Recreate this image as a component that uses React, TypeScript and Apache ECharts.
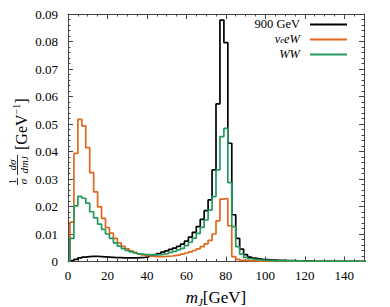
import React, { useEffect, useRef } from "react";
import * as echarts from "echarts";

// Histogram binning (GeV): first bin edge and bin width
const binStart = 1;
const binWidth = 2;

const seriesNames = ["900 GeV", "νeeW", "WW"];
const seriesColors = ["#000000", "#e0671b", "#22995f"];

// 1/σ dσ/dm_J per bin, bins [1,3], [3,5], ... [149,151]
const tev900 = [
  0.0003, 0.0008, 0.0013, 0.0016, 0.0018, 0.0019, 0.0019, 0.0018, 0.0017, 0.0016,
  0.0015, 0.0014, 0.0014, 0.0013, 0.0013, 0.0013, 0.0013, 0.0014, 0.0015, 0.0017,
  0.0021, 0.0025, 0.0029, 0.0034, 0.0039, 0.0044, 0.0049, 0.0055, 0.0063, 0.0074,
  0.0089, 0.0106, 0.0127, 0.0153, 0.0185, 0.0224, 0.0333, 0.0573, 0.0878, 0.0796,
  0.043, 0.017, 0.0084, 0.0045, 0.0025, 0.0016, 0.0012, 0.001, 0.0008, 0.0007,
  0.0006, 0.0005, 0.0004, 0.0004, 0.0003, 0.0003, 0.0003, 0.0002, 0.0002, 0.0002,
  0.0002, 0.0001, 0.0001, 0.0001, 0.0001, 0.0001, 0.0001, 0.0001, 0.0001, 0.0001,
  0.0001, 0.0001, 0.0001, 0.0001, 0.0001,
];

const nueeW = [
  0.0143, 0.0393, 0.0517, 0.0493, 0.0414, 0.0323, 0.0253, 0.0199, 0.0157, 0.0123,
  0.0103, 0.0084, 0.0068, 0.0055, 0.0046, 0.0039, 0.0033, 0.0028, 0.0024, 0.0021,
  0.0019, 0.0018, 0.0018, 0.0018, 0.0019, 0.002, 0.0022, 0.0024, 0.0027, 0.0031,
  0.0035, 0.004, 0.0046, 0.0054, 0.0064, 0.0077, 0.01, 0.0148, 0.0227, 0.0229,
  0.013, 0.0018, 0.0008, 0.0004, 0.0003, 0.0002, 0.0002, 0.0001, 0.0001, 0.0001,
  0.0001, 0.0001, 0.0001, 0.0001, 0.0001, 0.0001, 0.0001, 0.0001, 0.0001, 0.0001,
  0.0001, 0.0001, 0.0001, 0.0001, 0.0001, 0.0001, 0.0001, 0.0001, 0.0001, 0.0001,
  0.0001, 0.0001, 0.0001, 0.0001, 0.0001,
];

const ww = [
  0.0084, 0.0202, 0.0237, 0.023, 0.0212, 0.0181, 0.0159, 0.0136, 0.0117, 0.01,
  0.0084, 0.0068, 0.0056, 0.0047, 0.004, 0.0035, 0.0031, 0.0028, 0.0026, 0.0025,
  0.0024, 0.0024, 0.0025, 0.0027, 0.0029, 0.0033, 0.0037, 0.0042, 0.0048, 0.0058,
  0.007, 0.0085, 0.0102, 0.0124, 0.0151, 0.0187, 0.0236, 0.0333, 0.0454, 0.0484,
  0.0287, 0.0127, 0.0054, 0.0027, 0.0015, 0.001, 0.0008, 0.0006, 0.0005, 0.0004,
  0.0004, 0.0003, 0.0003, 0.0003, 0.0002, 0.0002, 0.0002, 0.0002, 0.0002, 0.0001,
  0.0001, 0.0001, 0.0001, 0.0001, 0.0001, 0.0001, 0.0001, 0.0001, 0.0001, 0.0001,
  0.0001, 0.0001, 0.0001, 0.0001, 0.0001,
];

const xMin = 0;
const xMax = 150;
const xMajor = 20;
const xMinor = 5;
const yMin = 0;
const yMax = 0.09;
const yMajor = 0.01;

const SERIF = '"Liberation Serif", "DejaVu Serif", serif';
const FRAME = "#444";

function toSteps(values: number[]): [number, number][] {
  const pts: [number, number][] = [[xMin, 0]];
  values.forEach((v, i) => pts.push([binStart + i * binWidth, v]));
  pts.push([binStart + values.length * binWidth, values[values.length - 1]]);
  return pts;
}

function xAxisDef(position: "top" | "bottom", minor: boolean, labels: boolean) {
  return {
    type: "value",
    position,
    min: xMin,
    max: xMax,
    interval: minor ? xMinor : xMajor,
    axisLine: { show: !minor, onZero: false, lineStyle: { color: FRAME, width: 1 } },
    axisTick: { show: true, inside: true, length: minor ? 2.5 : 5, lineStyle: { color: FRAME, width: 1 } },
    axisLabel: {
      show: labels,
      showMaxLabel: false,
      margin: 7,
      color: "#000",
      fontFamily: SERIF,
      fontSize: 13,
    },
    splitLine: { show: false },
  };
}

function yAxisDef(position: "left" | "right", labels: boolean) {
  return {
    type: "value",
    position,
    min: yMin,
    max: yMax,
    interval: yMajor,
    axisLine: { show: true, onZero: false, lineStyle: { color: FRAME, width: 1 } },
    axisTick: { show: true, inside: true, length: 5, lineStyle: { color: FRAME, width: 1 } },
    minorTick: { show: true, splitNumber: 5, length: 2.5, lineStyle: { color: FRAME, width: 1 } },
    axisLabel: {
      show: labels,
      margin: 10,
      color: "#000",
      fontFamily: SERIF,
      fontSize: 13,
      formatter: (v: number) => (v === 0 ? "0" : v.toFixed(2)),
    },
    splitLine: { show: false },
  };
}

export default function App() {
  const ref = useRef<HTMLDivElement>(null);

  useEffect(() => {
    if (!ref.current) return;
    const chart = echarts.init(ref.current, undefined, { renderer: "svg" });

    const allSeries = [tev900, nueeW, ww];

    const legendY = [24, 39, 54];
    const legendTextX = 300;
    const legendLineX1 = 310;
    const legendLineX2 = 347;

    const baseText = {
      fill: "#000",
      align: "right",
      verticalAlign: "middle",
      textAlign: "right",
      textVerticalAlign: "middle",
    };

    const legendTexts: any[] = [
      {
        type: "text",
        style: {
          ...baseText,
          x: legendTextX,
          y: legendY[0],
          text: "{n|" + seriesNames[0] + "}",
          rich: { n: { fontFamily: SERIF, fontSize: 12.5, lineHeight: 12 } },
        },
      },
      {
        type: "text",
        style: {
          ...baseText,
          x: legendTextX,
          y: legendY[1],
          text: "{a|ν}{s|e}{a|eW}",
          rich: {
            a: { fontFamily: SERIF, fontStyle: "italic", fontSize: 12.5, lineHeight: 11, verticalAlign: "middle" },
            s: { fontFamily: SERIF, fontStyle: "italic", fontSize: 8.5, lineHeight: 6, verticalAlign: "bottom" },
          },
        },
      },
      {
        type: "text",
        style: {
          ...baseText,
          x: legendTextX,
          y: legendY[2],
          text: "{a|WW}",
          rich: { a: { fontFamily: SERIF, fontStyle: "italic", fontSize: 12.5, lineHeight: 11 } },
        },
      },
    ];

    const legendLines = seriesColors.map((c, i) => ({
      type: "line",
      shape: { x1: legendLineX1, y1: legendY[i] + 0.5, x2: legendLineX2, y2: legendY[i] + 0.5 },
      style: { stroke: c, lineWidth: 2 },
    }));

    const centered = {
      fill: "#000",
      align: "center",
      verticalAlign: "middle",
      textAlign: "center",
      textVerticalAlign: "middle",
    };

    const yTitle = {
      type: "group",
      x: 17.5,
      y: 136,
      rotation: Math.PI / 2,
      children: [
        { type: "text", style: { ...centered, x: -45.5, y: -5.5, text: "1", font: `10px ${SERIF}` } },
        { type: "line", shape: { x1: -49, y1: 0, x2: -42, y2: 0 }, style: { stroke: "#000", lineWidth: 0.8 } },
        { type: "text", style: { ...centered, x: -45.5, y: 5, text: "σ", font: `italic 11px ${SERIF}` } },
        { type: "text", style: { ...centered, x: -29, y: -5.5, text: "dσ", font: `italic 11px ${SERIF}` } },
        { type: "line", shape: { x1: -39, y1: 0, x2: -19, y2: 0 }, style: { stroke: "#000", lineWidth: 0.8 } },
        {
          type: "text",
          style: {
            ...centered,
            x: -29,
            y: 6,
            text: "{i|dm}{s|J}",
            rich: {
              i: { fontFamily: SERIF, fontStyle: "italic", fontSize: 11, lineHeight: 12 },
              s: { fontFamily: SERIF, fontStyle: "italic", fontSize: 8, lineHeight: 7, verticalAlign: "bottom" },
            },
          },
        },
        {
          type: "text",
          style: {
            fill: "#000",
            x: -14,
            y: 3.5,
            text: "{n|[GeV}{p|−1}{n|]}",
            align: "left",
            verticalAlign: "middle",
            textAlign: "left",
            textVerticalAlign: "middle",
            rich: {
              n: { fontFamily: SERIF, fontSize: 16, lineHeight: 20 },
              p: { fontFamily: SERIF, fontSize: 10, lineHeight: 10, verticalAlign: "top" },
            },
          },
        },
      ],
    };

    const xTitle = {
      type: "text",
      style: {
        ...centered,
        x: 216,
        y: 297,
        text: "{i|m}{s|J}{n|[GeV]}",
        rich: {
          i: { fontFamily: SERIF, fontStyle: "italic", fontSize: 17, lineHeight: 20 },
          s: { fontFamily: SERIF, fontStyle: "italic", fontSize: 11, lineHeight: 10, verticalAlign: "bottom" },
          n: { fontFamily: SERIF, fontSize: 17, lineHeight: 20 },
        },
      },
    };

    chart.setOption({
      animation: false,
      backgroundColor: "#ffffff",
      grid: { left: 68, top: 14, width: 296, height: 247.5, containLabel: false },
      xAxis: [
        xAxisDef("bottom", false, true),
        xAxisDef("bottom", true, false),
        xAxisDef("top", false, false),
        xAxisDef("top", true, false),
      ],
      yAxis: [yAxisDef("left", true), yAxisDef("right", false)],
      series: allSeries.map((vals, i) => ({
        name: seriesNames[i],
        type: "line",
        step: "end",
        xAxisIndex: 0,
        yAxisIndex: 0,
        data: toSteps(vals),
        showSymbol: false,
        symbol: "none",
        clip: true,
        lineStyle: { color: seriesColors[i], width: 1.7 },
        itemStyle: { color: seriesColors[i] },
        z: 2 + i,
      })),
      graphic: [...legendTexts, ...legendLines, yTitle, xTitle],
    });

    return () => {
      chart.dispose();
    };
  }, []);

  return (
    <div
      ref={ref}
      style={{ position: "fixed", left: 0, top: 0, width: 390, height: 307, background: "#fff" }}
    />
  );
}
